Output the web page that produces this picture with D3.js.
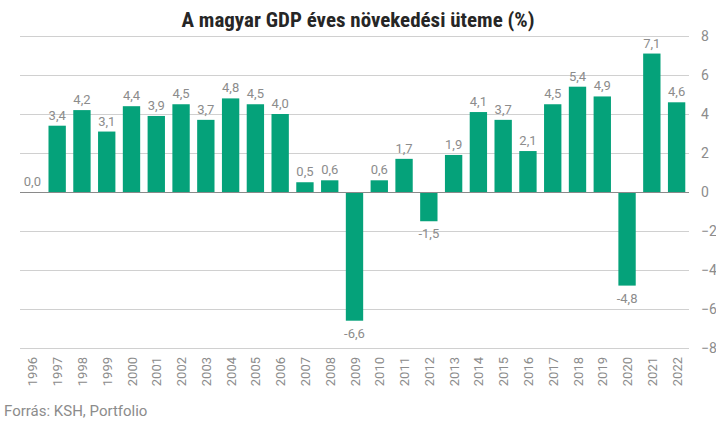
<!DOCTYPE html>
<html><head><meta charset="utf-8">
<script src="https://cdn.jsdelivr.net/npm/d3@7"></script>
<style>body{margin:0;background:#fff}svg{display:block;font-family:Roboto,sans-serif}</style>
</head><body><svg id="c" width="716" height="428"></svg>
<script>
const years = ["1996","1997","1998","1999","2000","2001","2002","2003","2004","2005","2006","2007","2008","2009","2010","2011","2012","2013","2014","2015","2016","2017","2018","2019","2020","2021","2022"];
const growth = [0.0,3.4,4.2,3.1,4.4,3.9,4.5,3.7,4.8,4.5,4.0,0.5,0.6,-6.6,0.6,1.7,-1.5,1.9,4.1,3.7,2.1,4.5,5.4,4.9,-4.8,7.1,4.6];
const yTicks = [-8,-6,-4,-2,0,2,4,6,8];
const title = "A magyar GDP éves növekedési üteme (%)";
const source = "Forrás: KSH, Portfolio";

const svg = d3.select("#c");
const x = d3.scaleBand().domain(years).range([20, 689]).paddingInner(0.3).paddingOuter(0.15);
const y = d3.scaleLinear().domain([-8, 8]).range([348, 36]);
const gray = "#8c8c8c";

svg.append("text").attr("x", 358).attr("y", 27).attr("text-anchor", "middle")
  .style("font-family", "'Roboto Condensed','Liberation Sans Narrow','Arial Narrow',sans-serif")
  .style("font-weight", "bold").style("font-size", "21px").attr("fill", "#262626").text(title);

// gridlines
svg.append("g").selectAll("line").data(yTicks.filter(d => d !== 0)).join("line")
  .attr("x1", 20).attr("x2", 689).attr("y1", d => y(d)).attr("y2", d => y(d))
  .attr("stroke", "#d0d0d0").attr("stroke-width", 1).attr("shape-rendering", "crispEdges");

// right axis
const ax = svg.append("g").attr("transform", "translate(689,0)")
  .call(d3.axisRight(y).tickValues(yTicks).tickSize(0).tickPadding(12).tickFormat(d3.format("d")));
ax.select(".domain").remove();
ax.selectAll("text").attr("fill", gray).style("font-size", "14px").style("font-family", "Roboto,sans-serif");

// bars
svg.append("g").selectAll("rect").data(growth).join("rect")
  .attr("x", (d, i) => x(years[i])).attr("width", x.bandwidth())
  .attr("y", d => y(Math.max(0, d))).attr("height", d => Math.abs(y(d) - y(0)))
  .attr("fill", "#05a27a");

// zero line
svg.append("line").attr("x1", 20).attr("x2", 689).attr("y1", y(0)).attr("y2", y(0))
  .attr("stroke", "#8a8a8a").attr("stroke-width", 1).attr("shape-rendering", "crispEdges");

// value labels
const fmt = v => v.toFixed(1).replace(".", ",");
svg.append("g").selectAll("text").data(growth).join("text")
  .attr("x", (d, i) => x(years[i]) + x.bandwidth() / 2)
  .attr("y", d => d >= 0 ? y(d) - 6 : y(d) + 17)
  .attr("text-anchor", "middle").attr("fill", gray).style("font-size", "13px")
  .text(d => fmt(d));

// x axis labels (rotated)
svg.append("g").selectAll("text").data(years).join("text")
  .attr("transform", d => `translate(${x(d) + x.bandwidth() / 2 + 5},357) rotate(-90)`)
  .attr("text-anchor", "end").attr("fill", gray).style("font-size", "13px").text(d => d);

svg.append("text").attr("x", 4).attr("y", 416).attr("fill", gray).style("font-size", "15px").text(source);
</script></body></html>
